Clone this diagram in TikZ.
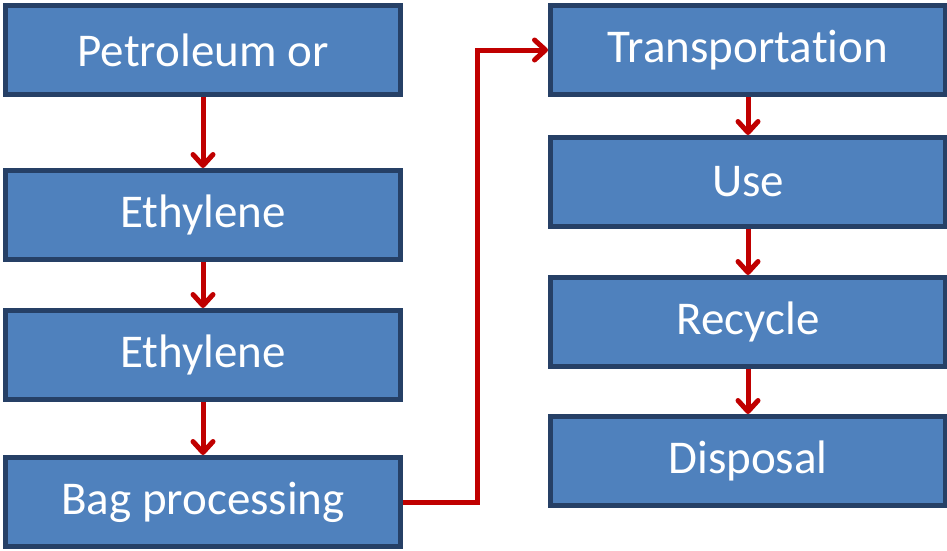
\documentclass[tikz,border=0pt]{standalone}
\usepackage{fontspec}
\setmainfont[Ligatures=NoCommon]{Carlito}
\usepackage{xcolor}
\usepackage{tikz}
\usetikzlibrary{arrows.meta,positioning}

\definecolor{boxblue}{HTML}{4F81BD}
\definecolor{boxedge}{HTML}{264066}
\definecolor{arrred}{HTML}{C00000}

\begin{document}
\begin{tikzpicture}[
  font=\fontsize{47}{56}\selectfont,
  box/.style={draw=boxedge, fill=boxblue, line width=5pt, text=white,
              minimum width=395pt, minimum height=89pt, inner sep=0pt},
  fl/.style={draw=arrred, line width=5pt,
             -{Straight Barb[length=11pt, width=20pt, round]}},
]
\useasboundingbox (0,0) rectangle (947pt,-550pt);

% ---------- left column ----------
\node[box] (petro) at (203pt,-50pt) {Petroleum or};
\node[box, below=71pt of petro] (eth1) {Ethylene};
\node[box, below=46pt of eth1] (eth2) {Ethylene};
\node[box, below=53pt of eth2] (bag) {Bag processing};

% ---------- right column ----------
\node[box, right=145pt of petro] (trans) {Transportation};
\node[box, below=38pt of trans] (use) {Use};
\node[box, below=46pt of use] (recyc) {Recycle};
\node[box, below=45pt of recyc] (disp) {Disposal};

\foreach \a/\b in {petro/eth1,eth1/eth2,eth2/bag,trans/use,use/recyc,recyc/disp}
  \draw[fl] (\a) -- (\b);
\draw[fl] (bag.east) -- ++(74pt,0) |- (trans.west);

\end{tikzpicture}
\end{document}
